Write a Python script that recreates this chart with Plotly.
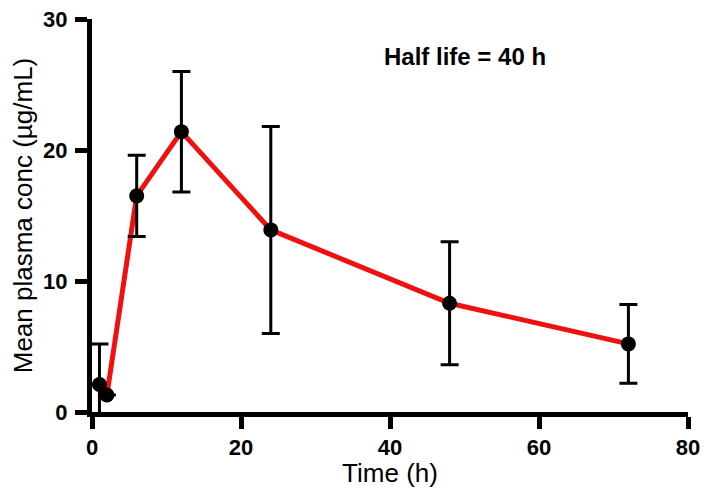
import plotly.graph_objects as go

time_h = [1, 2, 6, 12, 24, 48, 72]
mean_conc = [2.1, 1.3, 16.5, 21.4, 13.9, 8.3, 5.2]
err = [3.1, 0.0, 3.1, 4.6, 7.9, 4.7, 3.0]
x_ticks = [0, 20, 40, 60, 80]
y_ticks = [0, 10, 20, 30]

FONT = "Liberation Sans, Arial, sans-serif"

fig = go.Figure()
fig.add_trace(go.Scatter(
    x=time_h, y=mean_conc, mode="lines",
    line=dict(color="#f01010", width=5),
    hoverinfo="skip", showlegend=False,
))
fig.add_trace(go.Scatter(
    x=time_h, y=mean_conc, mode="markers",
    marker=dict(color="black", size=15),
    error_y=dict(type="data", array=err, visible=True, color="black",
                 thickness=3, width=9),
    showlegend=False,
))

fig.add_annotation(x=50, y=27.1, text="<b>Half life = 40 h</b>", showarrow=False,
                   font=dict(family=FONT, size=24, color="black"))

axis_common = dict(
    showline=True, linecolor="black", linewidth=5,
    ticks="outside", tickwidth=5, ticklen=12, tickcolor="black",
    showgrid=False, zeroline=False, automargin=False,
    ticklabeloverflow="allow",
    tickfont=dict(family=FONT, size=22, color="black", weight="bold"),
    title_font=dict(family=FONT, size=26, color="black"),
)

# the page has an 8px body margin; the figure is sized so it fits the 709x496 window
fig.update_layout(
    width=693, height=480,
    margin=dict(l=84, r=13, t=11, b=76),
    paper_bgcolor="white", plot_bgcolor="white",
    xaxis=dict(range=[0, 80], tickvals=x_ticks, ticklabelstandoff=0,
               title=dict(text="Time (h)", standoff=4), **axis_common),
    yaxis=dict(range=[0, 30], tickvals=y_ticks, ticklabelstandoff=3,
               title=dict(text="Mean plasma conc (µg/mL)", standoff=28), **axis_common),
)

fig.write_html("out.html")
